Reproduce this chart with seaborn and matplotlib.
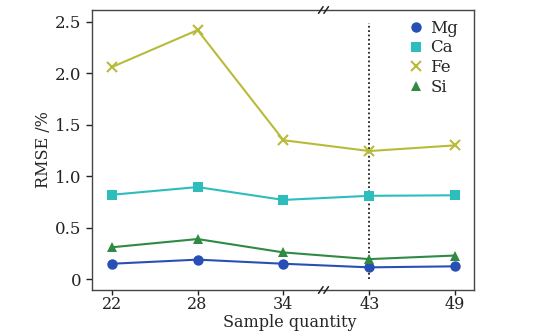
import matplotlib
matplotlib.use("Agg")
import matplotlib.pyplot as plt
import seaborn as sns
import pandas as pd

# Sample counts and RMSE (%) per element
sample_quantity = ["22", "28", "34", "43", "49"]
rmse_mg = [0.15, 0.19, 0.15, 0.115, 0.125]
rmse_ca = [0.82, 0.895, 0.77, 0.81, 0.815]
rmse_fe = [2.06, 2.42, 1.35, 1.245, 1.30]
rmse_si = [0.31, 0.39, 0.26, 0.195, 0.23]

elements = ["Mg", "Ca", "Fe", "Si"]
colors = {"Mg": "#2850b4", "Ca": "#2ebdbd", "Fe": "#b8bb3a", "Si": "#2f8a44"}
markers = {"Mg": "o", "Ca": "s", "Fe": "x", "Si": "^"}
sizes = {"Mg": 7.5, "Ca": 6.5, "Fe": 6.5, "Si": 7.5}

values = {"Mg": rmse_mg, "Ca": rmse_ca, "Fe": rmse_fe, "Si": rmse_si}
rows = []
for el in elements:
    for i, (q, v) in enumerate(zip(sample_quantity, values[el])):
        rows.append({"pos": i, "quantity": q, "element": el, "rmse": v})
df = pd.DataFrame(rows)

sns.set_style("ticks")
plt.rcParams["font.family"] = ["DejaVu Serif"]
plt.rcParams["mathtext.fontset"] = "dejavuserif"

fig = plt.figure(figsize=(5.54, 3.32), dpi=100)
ax_bottom = 290
ax = fig.add_axes([92 / 554, 1 - ax_bottom / 332, (474 - 92) / 554, (ax_bottom - 10) / 332])

for el in elements:
    sub = df[df["element"] == el]
    sns.lineplot(data=sub, x="pos", y="rmse", ax=ax, color=colors[el], lw=1.5,
                 legend=False)
    ax.plot(sub["pos"], sub["rmse"], linestyle="none", marker=markers[el],
            color=colors[el], markersize=sizes[el], mew=1.5 if el == "Fe" else 0,
            label=el, zorder=3)

ax.vlines(3, 0.0, 2.49, colors="#222222", linestyles=(0, (1.0, 1.4)), lw=1.3, zorder=2)

ax.set_xlim(-0.23, 4.22)
ax.set_ylim(-0.105, 2.615)
ax.set_xticks(range(len(sample_quantity)))
ax.set_xticklabels(sample_quantity)
ax.set_yticks([0, 0.5, 1.0, 1.5, 2.0, 2.5])
ax.set_yticklabels(["0", "0.5", "1.0", "1.5", "2.0", "2.5"])
ax.tick_params(labelsize=12, direction="out", length=4, width=1, colors="#222222")
ax.tick_params(axis="x", labelsize=11.5, length=3.5, pad=1)
for s in ax.spines.values():
    s.set_color("#444444")
    s.set_linewidth(1.0)

ax.set_xlabel("Sample quantity", fontsize=11.5, va="bottom")
ax.xaxis.set_label_coords(0.518, -(331 - ax_bottom) / (ax_bottom - 10))
ax.set_ylabel("RMSE /%", fontsize=11.5, labelpad=2)

# axis-break marks on top and bottom spines
for yb in (0, 1):
    for dx in (-0.007, 0.007):
        ax.plot([0.606 + dx - 0.006, 0.606 + dx + 0.006], [yb - 0.012, yb + 0.012],
                transform=ax.transAxes, color="#222222", lw=1.1, clip_on=False, zorder=5)

leg = ax.legend(loc="upper right", frameon=False, fontsize=12, handlelength=0.9,
                handletextpad=0.4, labelspacing=0.15, borderaxespad=0.2,
                bbox_to_anchor=(0.985, 1.0))

fig.savefig("out.png", dpi=100)
